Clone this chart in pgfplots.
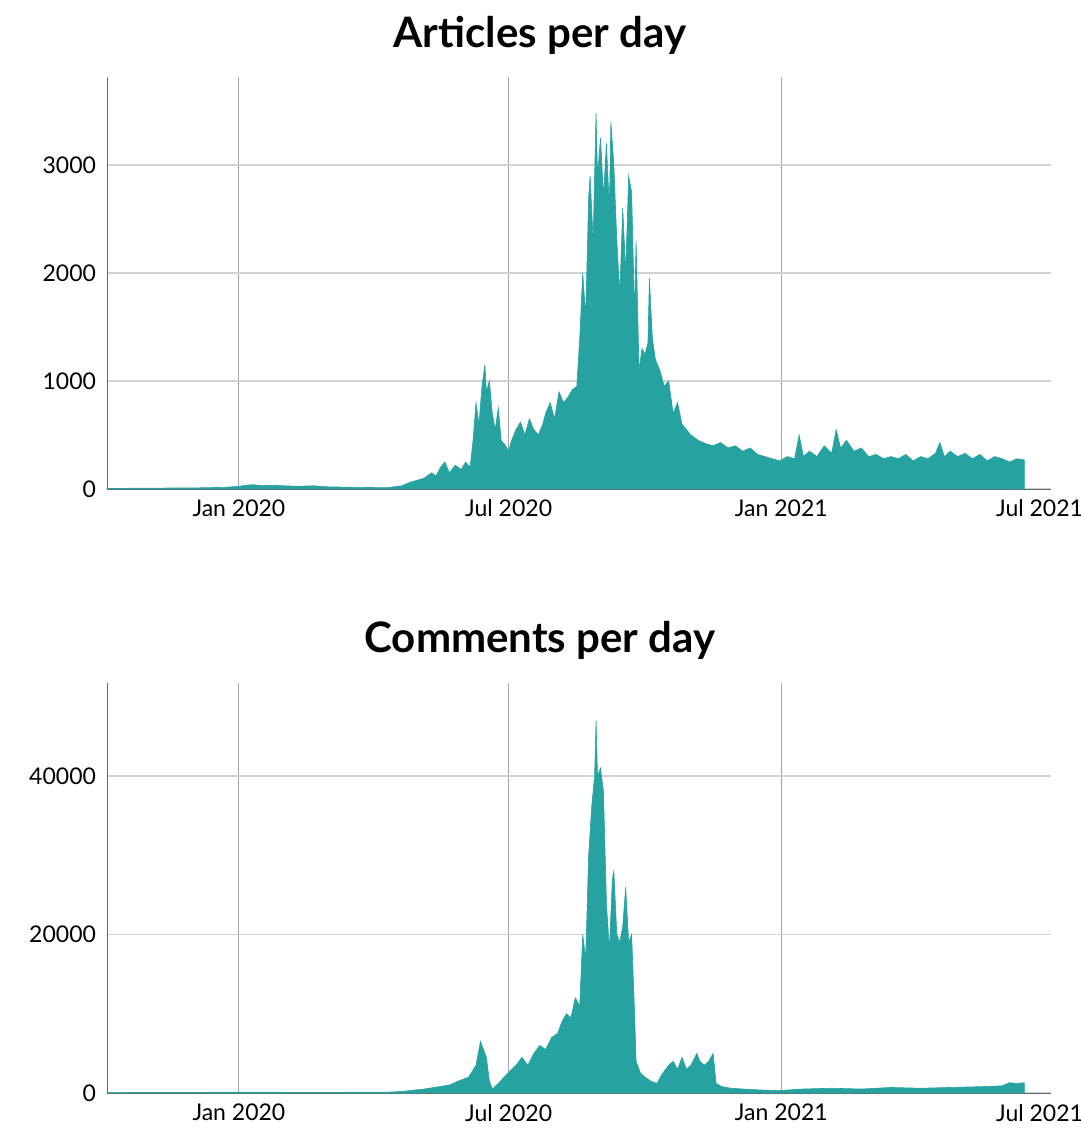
\documentclass[border=0pt]{standalone}
\usepackage{pgfplots}
\pgfplotsset{compat=1.18}
\usepackage{fontspec}
\setmainfont{Lato}
\definecolor{tl}{HTML}{26A3A0}
\begin{document}
\begin{tikzpicture}
\path[use as bounding box] (0,0) rectangle (540pt,571.5pt);
\pgfplotsset{every axis/.style={scale only axis, width=472pt, height=206pt,
  xmin=-89, xmax=548, ymin=0,
  axis lines=left, axis line style={-, gray!80!black},
  major tick length=0pt,
  xtick={0,182,366}, xticklabels={Jan 2020,Jul 2020,Jan 2021},
  extra x ticks={547}, extra x tick labels={Jul 2021},
  extra x tick style={grid=none, xticklabel style={xshift=-5pt}},
  xmajorgrids, ymajorgrids,
  x grid style={gray!70, line width=0.6pt},
  y grid style={gray!35, line width=0.6pt},
  tick label style={font=\fontsize{11.5}{14}\selectfont},
  /pgf/number format/assume math mode=true,
  /pgf/number format/1000 sep={}, scaled y ticks=false,
  xticklabel style={yshift=-2pt}, yticklabel style={xshift=-2pt},
  clip=false}}
\node[font=\fontsize{21}{24}\selectfont\bfseries] at (270pt,554pt) {Articles per day};
\node[font=\fontsize{21}{24}\selectfont\bfseries] at (270pt,251.5pt) {Comments per day};
\begin{axis}[at={(53.5pt,533pt)}, anchor=north west, ymax=3815, ytick={0,1000,2000,3000}]
\addplot[fill=tl, draw=tl, line width=0.3pt] coordinates {
(-89,5)(-60,8)(-30,10)(-10,15)(0,25)(5,35)(10,40)(15,30)(20,35)(30,30)(40,25)(50,30)(60,20)(80,15)(100,12)(110,30)(115,60)(120,80)(125,100)(130,150)(133,120)(136,200)(139,250)(142,150)(146,220)(150,180)(153,250)(156,200)(158,450)(160,800)(162,600)(164,950)(166,1150)(167,900)(169,1000)(171,700)(173,550)(175,750)(177,450)(180,400)(182,350)(184,450)(187,550)(190,620)(193,500)(196,650)(199,550)(202,500)(205,600)(207,700)(210,800)(213,650)(216,900)(219,800)(222,850)(225,920)(228,950)(230,1400)(232,2000)(234,1600)(236,2700)(237,2900)(239,2300)(241,3480)(242,2900)(244,3250)(246,2700)(248,3200)(250,2600)(251,3400)(253,3000)(255,2300)(257,1800)(259,2600)(261,2000)(263,2900)(265,2750)(267,1600)(268,2300)(270,1100)(272,1300)(274,1250)(276,1350)(277,1950)(279,1400)(281,1200)(284,1100)(287,950)(290,1000)(293,700)(296,800)(299,600)(302,550)(305,500)(310,450)(315,420)(320,400)(325,430)(330,380)(335,400)(340,350)(345,380)(350,320)(355,300)(360,280)(365,260)(370,300)(375,280)(378,500)(381,300)(385,350)(390,300)(395,400)(400,330)(403,550)(406,380)(410,450)(415,350)(420,380)(425,300)(430,320)(435,280)(440,300)(445,280)(450,320)(455,260)(460,300)(465,280)(470,330)(473,430)(476,300)(480,350)(485,300)(490,330)(495,280)(500,320)(505,260)(510,300)(515,280)(520,250)(525,280)(530,270)
} \closedcycle;
\end{axis}
\begin{axis}[at={(53.5pt,25pt)}, anchor=south west, height=205pt, ymax=51735, ytick={0,20000,40000}]
\addplot[fill=tl, draw=tl, line width=0.3pt] coordinates {
(-89,50)(0,100)(50,80)(100,100)(110,200)(115,300)(125,500)(135,800)(142,1000)(148,1500)(155,2000)(160,3500)(163,6500)(165,5500)(167,4500)(169,1500)(171,500)(175,1200)(179,2000)(183,2800)(187,3500)(191,4500)(195,3500)(199,5000)(203,6000)(207,5500)(211,7000)(215,7500)(218,9000)(221,10000)(224,9500)(227,12000)(230,11000)(232,20000)(234,17000)(236,30000)(238,36000)(240,40000)(241,47000)(242,40000)(244,41000)(246,38000)(248,24000)(250,18000)(252,27000)(253,28000)(255,20000)(257,19000)(259,21000)(261,26000)(263,19000)(265,20000)(267,10000)(268,4000)(271,2500)(274,2000)(278,1500)(282,1200)(286,2500)(290,3500)(293,4000)(296,3000)(299,4500)(302,3000)(305,3500)(309,5000)(311,4000)(314,3500)(317,4000)(320,5000)(322,1200)(326,800)(332,600)(340,500)(350,400)(364,300)(380,500)(400,600)(420,500)(440,700)(460,600)(480,700)(500,800)(515,900)(520,1300)(525,1200)(530,1300)
} \closedcycle;
\end{axis}
\end{tikzpicture}
\end{document}
